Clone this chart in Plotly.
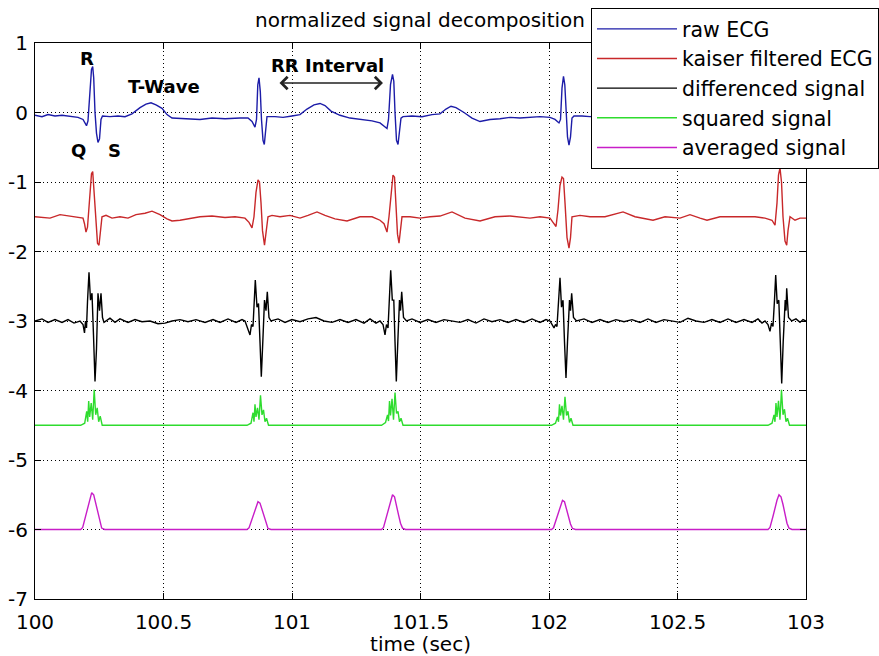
import plotly.graph_objects as go

# ---------------- data (time in seconds, normalized amplitude) ----------------
raw_t = [100.0000, 100.0272, 100.0506, 100.0778, 100.1051, 100.1362, 100.1673, 100.1868, 100.2004, 100.2062,
         100.2140, 100.2198, 100.2245, 100.2284, 100.2335, 100.2393, 100.2451, 100.2510, 100.2568, 100.2626,
         100.2918, 100.3230, 100.3502, 100.3774, 100.4086, 100.4319, 100.4514, 100.4708, 100.4942, 100.5136,
         100.5331, 100.5837, 100.6420, 100.6887, 100.7393, 100.7977, 100.8288, 100.8444, 100.8560, 100.8619,
         100.8669, 100.8716, 100.8767, 100.8813, 100.8872, 100.8922, 100.8969, 100.9027, 100.9339, 100.9650,
         101.0000, 101.0311, 101.0584, 101.0856, 101.1090, 101.1284, 101.1518, 101.1868, 101.2257, 101.2724,
         101.3113, 101.3424, 101.3619, 101.3697, 101.3755, 101.3833, 101.3911, 101.3961, 101.4008, 101.4066,
         101.4125, 101.4183, 101.4241, 101.4319, 101.4669, 101.5058, 101.5447, 101.5759, 101.5992, 101.6187,
         101.6381, 101.6693, 101.7004, 101.7315, 101.7704, 101.8094, 101.8483, 101.8872, 101.9261, 101.9650,
         102.0039, 102.0234, 102.0389, 102.0448, 102.0506, 102.0564, 102.0615, 102.0661, 102.0720, 102.0778,
         102.0837, 102.0895, 102.0973, 102.1284, 102.1595, 102.1985, 102.2763, 102.3541, 102.4319, 102.5098,
         102.5876, 102.6654, 102.7432, 102.8210, 102.8677, 102.8794, 102.8872, 102.8950, 102.9028, 102.9144,
         102.9261, 102.9572, 103.0000]
raw_v = [-0.04, -0.06, -0.03, -0.05, -0.04, -0.05, -0.07, -0.10, -0.19, -0.12,
         0.30, 0.62, 0.66, 0.50, 0.00, -0.30, -0.43, -0.38, -0.10, -0.05,
         -0.06, -0.05, -0.06, -0.02, 0.07, 0.12, 0.14, 0.11, 0.06, -0.03,
         -0.08, -0.09, -0.10, -0.08, -0.09, -0.08, -0.08, -0.13, -0.21, -0.10,
         0.40, 0.50, 0.30, -0.10, -0.40, -0.46, -0.30, -0.06, -0.06, -0.07,
         -0.05, -0.03, 0.05, 0.11, 0.13, 0.10, 0.02, -0.04, -0.08, -0.10,
         -0.12, -0.15, -0.20, -0.23, -0.10, 0.40, 0.55, 0.45, 0.00, -0.40,
         -0.46, -0.30, -0.08, -0.06, -0.05, -0.06, -0.03, -0.02, 0.05, 0.09,
         0.07, 0.00, -0.08, -0.13, -0.10, -0.09, -0.07, -0.08, -0.07, -0.06,
         -0.07, -0.10, -0.15, -0.10, 0.35, 0.52, 0.40, 0.00, -0.35, -0.47,
         -0.35, -0.08, -0.05, -0.05, -0.06, -0.05, 0.08, -0.08, -0.07, -0.06,
         0.06, -0.08, -0.07, -0.06, -0.12, -0.20, 0.30, 0.60, 0.10, -0.45,
         -0.10, -0.05, -0.05]

kaiser_t = [100.0000, 100.0584, 100.0973, 100.1556, 100.1868, 100.1926, 100.1984, 100.2043, 100.2121, 100.2198,
            100.2245, 100.2296, 100.2354, 100.2432, 100.2490, 100.2549, 100.2607, 100.2763, 100.2996, 100.3307,
            100.3619, 100.3930, 100.4280, 100.4553, 100.4864, 100.5136, 100.5331, 100.5642, 100.6031, 100.6420,
            100.6887, 100.7393, 100.7782, 100.8171, 100.8327, 100.8444, 100.8521, 100.8599, 100.8677, 100.8735,
            100.8794, 100.8852, 100.8930, 100.8988, 100.9066, 100.9222, 100.9533, 100.9922, 101.0311, 101.0623,
            101.0973, 101.1284, 101.1673, 101.2140, 101.2646, 101.3113, 101.3424, 101.3580, 101.3697, 101.3774,
            101.3872, 101.3930, 101.3989, 101.4047, 101.4105, 101.4164, 101.4222, 101.4280, 101.4592, 101.4981,
            101.5370, 101.5759, 101.6226, 101.6732, 101.7315, 101.7899, 101.8483, 101.8872, 101.9261, 101.9650,
            102.0039, 102.0156, 102.0273, 102.0350, 102.0428, 102.0506, 102.0564, 102.0623, 102.0701, 102.0778,
            102.0837, 102.0895, 102.1206, 102.1595, 102.2179, 102.2880, 102.3347, 102.4047, 102.4514, 102.5098,
            102.5486, 102.5876, 102.6148, 102.6654, 102.7432, 102.8016, 102.8405, 102.8677, 102.8794, 102.8872,
            102.8930, 102.8988, 102.9047, 102.9105, 102.9183, 102.9249, 102.9300, 102.9378, 102.9572, 102.9767,
            103.0000]
kaiser_v = [-1.50, -1.52, -1.47, -1.50, -1.52, -1.60, -1.72, -1.65, -1.20, -0.88,
            -0.85, -1.10, -1.50, -1.88, -1.91, -1.70, -1.50, -1.48, -1.52, -1.50,
            -1.52, -1.47, -1.45, -1.42, -1.47, -1.53, -1.56, -1.55, -1.52, -1.50,
            -1.49, -1.51, -1.50, -1.52, -1.58, -1.66, -1.50, -1.15, -0.97, -1.00,
            -1.30, -1.70, -1.91, -1.75, -1.50, -1.48, -1.50, -1.48, -1.52, -1.48,
            -1.43, -1.48, -1.53, -1.56, -1.50, -1.50, -1.55, -1.60, -1.72, -1.50,
            -1.10, -0.90, -0.93, -1.30, -1.75, -1.88, -1.70, -1.50, -1.50, -1.52,
            -1.50, -1.49, -1.43, -1.52, -1.56, -1.50, -1.49, -1.51, -1.52, -1.50,
            -1.52, -1.58, -1.64, -1.40, -1.05, -0.93, -0.95, -1.30, -1.80, -1.95,
            -1.80, -1.50, -1.48, -1.50, -1.50, -1.43, -1.50, -1.55, -1.50, -1.52,
            -1.47, -1.52, -1.55, -1.50, -1.50, -1.50, -1.52, -1.55, -1.62, -1.30,
            -0.90, -0.80, -1.00, -1.50, -1.85, -1.91, -1.70, -1.50, -1.55, -1.52,
            -1.52]

diff_t = [100.0000, 100.0272, 100.0506, 100.0778, 100.1051, 100.1284, 100.1518,
          100.1751, 100.1868, 100.1926, 100.1965, 100.2004, 100.2043, 100.2101, 100.2160, 100.2218, 100.2276,
          100.2335, 100.2393, 100.2451, 100.2510, 100.2568, 100.2626, 100.2685,
          100.2918, 100.3113, 100.3307, 100.3619, 100.3891, 100.4163, 100.4475, 100.4786, 100.5058, 100.5331,
          100.5642, 100.5953, 100.6265, 100.6615, 100.6926, 100.7199, 100.7510, 100.7821, 100.8055,
          100.8171, 100.8366, 100.8424, 100.8483, 100.8521, 100.8572, 100.8638, 100.8697, 100.8755, 100.8806,
          100.8864, 100.8930, 100.8988, 100.9039, 100.9105, 100.9183,
          100.9455, 100.9728, 101.0000, 101.0311, 101.0623, 101.0934, 101.1245, 101.1557, 101.1868, 101.2179,
          101.2490, 101.2802, 101.3035, 101.3269,
          101.3424, 101.3541, 101.3619, 101.3677, 101.3736, 101.3786, 101.3841, 101.3903, 101.3961, 101.4008,
          101.4059, 101.4117, 101.4183, 101.4222, 101.4269, 101.4339, 101.4456,
          101.4669, 101.4981, 101.5292, 101.5603, 101.5915, 101.6226, 101.6537, 101.6848, 101.7160, 101.7471,
          101.7782, 101.8094, 101.8405, 101.8716, 101.9027, 101.9339, 101.9650, 101.9883,
          102.0039, 102.0195, 102.0253, 102.0311, 102.0370, 102.0428, 102.0487, 102.0545, 102.0603, 102.0661,
          102.0720, 102.0798, 102.0837, 102.0882, 102.0953, 102.1070,
          102.1362, 102.1673, 102.1985, 102.2296, 102.2607, 102.2918, 102.3230, 102.3541, 102.3852, 102.4163,
          102.4475, 102.4786, 102.5098, 102.5409, 102.5720, 102.6031, 102.6342, 102.6654, 102.6965, 102.7276,
          102.7588, 102.7899, 102.8132, 102.8288,
          102.8405, 102.8521, 102.8599, 102.8658, 102.8716, 102.8774, 102.8821, 102.8879, 102.8942, 102.9000,
          102.9055, 102.9113, 102.9191, 102.9222, 102.9249, 102.9319, 102.9444,
          102.9611, 102.9767, 102.9883, 103.0000]
diff_v = [-3.00, -2.97, -3.02, -2.98, -3.02, -2.98, -3.03,
          -3.00, -3.05, -3.17, -3.00, -3.10, -2.72, -2.30, -2.70, -2.60, -3.20,
          -3.87, -3.40, -2.60, -2.85, -2.60, -2.95, -3.02,
          -2.96, -3.02, -2.97, -3.02, -2.98, -3.01, -3.00, -3.04, -3.03, -3.00,
          -2.98, -3.01, -2.98, -3.02, -2.98, -3.02, -2.97, -3.02, -2.98,
          -3.00, -3.20, -3.05, -3.08, -2.80, -2.41, -2.80, -2.75, -3.30, -3.80,
          -3.30, -2.70, -2.85, -2.58, -2.95, -3.00,
          -2.97, -3.02, -2.98, -3.01, -2.97, -2.95, -3.00, -3.02, -2.98, -3.02,
          -2.98, -3.03, -2.97, -3.03,
          -3.00, -3.05, -3.20, -3.05, -3.10, -2.70, -2.27, -2.70, -2.70, -3.30,
          -3.87, -3.30, -2.70, -2.85, -2.58, -2.95, -3.00,
          -2.97, -3.02, -2.98, -3.02, -2.98, -3.00, -3.02, -2.98, -3.03, -2.97,
          -3.01, -2.98, -3.02, -2.98, -3.02, -2.97, -3.02, -2.98,
          -3.00, -3.10, -3.05, -3.08, -2.70, -2.38, -2.80, -2.70, -3.30, -3.82,
          -3.30, -2.70, -2.85, -2.60, -2.95, -3.00,
          -2.97, -3.02, -2.98, -3.02, -2.98, -3.01, -2.98, -3.02, -2.97, -3.02,
          -2.98, -3.00, -3.02, -2.96, -3.00, -3.02, -2.98, -3.02, -2.97, -3.02,
          -2.98, -3.02, -2.97, -3.03,
          -3.00, -3.05, -3.15, -3.03, -3.08, -2.70, -2.34, -2.75, -2.70, -3.30,
          -3.90, -3.30, -2.70, -2.85, -2.53, -2.95, -3.00,
          -2.97, -3.02, -2.98, -3.00]

sq_t = [100.0000,
        100.1778, 100.1934, 100.2012, 100.2050, 100.2089, 100.2128, 100.2187, 100.2245, 100.2303, 100.2362, 100.2420, 100.2478, 100.2537, 100.2615,
        100.8249, 100.8405, 100.8483, 100.8521, 100.8560, 100.8599, 100.8658, 100.8716, 100.8774, 100.8833, 100.8891, 100.8949, 100.9008, 100.9086,
        101.3483, 101.3639, 101.3717, 101.3755, 101.3794, 101.3833, 101.3892, 101.3950, 101.4008, 101.4067, 101.4125, 101.4183, 101.4242, 101.4320,
        102.0097, 102.0253, 102.0331, 102.0369, 102.0408, 102.0447, 102.0506, 102.0564, 102.0622, 102.0681, 102.0739, 102.0797, 102.0856, 102.0934,
        102.8521, 102.8677, 102.8755, 102.8793, 102.8832, 102.8871, 102.8930, 102.8988, 102.9046, 102.9105, 102.9163, 102.9221, 102.9280, 102.9358,
        103.0000]
sq_v = [-4.50,
        -4.50, -4.47, -4.30, -4.45, -4.15, -4.38, -4.18, -4.42, -3.99, -4.35, -4.25, -4.45, -4.37, -4.50,
        -4.50, -4.47, -4.32, -4.45, -4.20, -4.38, -4.25, -4.42, -4.07, -4.35, -4.28, -4.45, -4.40, -4.50,
        -4.50, -4.46, -4.35, -4.44, -4.15, -4.36, -4.12, -4.42, -4.03, -4.33, -4.30, -4.45, -4.40, -4.50,
        -4.50, -4.47, -4.38, -4.45, -4.20, -4.36, -4.22, -4.42, -4.09, -4.36, -4.30, -4.46, -4.40, -4.50,
        -4.50, -4.47, -4.35, -4.45, -4.18, -4.38, -4.15, -4.42, -3.99, -4.35, -4.27, -4.45, -4.40, -4.50,
        -4.50]

avg_t = [100.0000,
         100.1778, 100.1856, 100.1973, 100.2050, 100.2128, 100.2206, 100.2284, 100.2362, 100.2440, 100.2517, 100.2595, 100.2712,
         100.8249, 100.8327, 100.8444, 100.8521, 100.8599, 100.8677, 100.8755, 100.8833, 100.8911, 100.8988, 100.9066, 100.9183,
         101.3483, 101.3561, 101.3678, 101.3755, 101.3833, 101.3911, 101.3989, 101.4067, 101.4145, 101.4222, 101.4300, 101.4417,
         102.0097, 102.0175, 102.0292, 102.0369, 102.0447, 102.0525, 102.0603, 102.0681, 102.0759, 102.0836, 102.0914, 102.1031,
         102.8521, 102.8599, 102.8716, 102.8793, 102.8871, 102.8949, 102.9027, 102.9105, 102.9183, 102.9260, 102.9338, 102.9455,
         103.0000]
avg_v = [-6.00,
         -6.00, -5.97, -5.80, -5.66, -5.55, -5.47, -5.50, -5.62, -5.78, -5.90, -5.98, -6.00,
         -6.00, -5.977, -5.85, -5.74, -5.66, -5.60, -5.62, -5.71, -5.83, -5.92, -5.985, -6.00,
         -6.00, -5.97, -5.81, -5.68, -5.58, -5.50, -5.53, -5.64, -5.79, -5.91, -5.98, -6.00,
         -6.00, -5.976, -5.84, -5.73, -5.64, -5.58, -5.60, -5.70, -5.83, -5.92, -5.985, -6.00,
         -6.00, -5.97, -5.81, -5.68, -5.58, -5.50, -5.53, -5.64, -5.79, -5.91, -5.98, -6.00,
         -6.00]

series_names = ["raw ECG", "kaiser filtered ECG", "differenced signal", "squared signal", "averaged signal"]
series_colors = ["#1c1ca8", "#c8282a", "#000000", "#2edc2e", "#c81ec8"]

x_ticks = [100, 100.5, 101, 101.5, 102, 102.5, 103]
x_tick_labels = ["100", "100.5", "101", "101.5", "102", "102.5", "103"]
y_ticks = [-7, -6, -5, -4, -3, -2, -1, 0, 1]
y_tick_labels = ["-7", "-6", "-5", "-4", "-3", "-2", "-1", "0", "1"]

# annotation labels (text, time, value)
label_text = ["R", "T-Wave", "RR Interval", "Q", "S"]
label_t = [100.2023, 100.502, 101.138, 100.171, 100.3086]
label_v = [0.784, 0.371, 0.683, -0.54, -0.54]
rr_arrow_t = [100.9455, 101.354]
rr_arrow_v = 0.424

FONT = "DejaVu Sans"

fig = go.Figure()
for (t, v), name, col in zip([(raw_t, raw_v), (kaiser_t, kaiser_v), (diff_t, diff_v), (sq_t, sq_v), (avg_t, avg_v)],
                             series_names, series_colors):
    fig.add_trace(go.Scatter(x=t, y=v, mode="lines", name=name,
                             line=dict(color=col, width=1.4)))

for txt, tx, ty in zip(label_text, label_t, label_v):
    fig.add_annotation(x=tx, y=ty, xref="x", yref="y", text="<b>%s</b>" % txt, showarrow=False,
                       font=dict(family=FONT, size=18, color="black"))

fig.add_annotation(x=rr_arrow_t[1], y=rr_arrow_v, ax=rr_arrow_t[0], ay=rr_arrow_v,
                   xref="x", yref="y", axref="x", ayref="y", text="", showarrow=True,
                   arrowside="end+start", arrowhead=4, arrowsize=1.6, arrowwidth=1.5, arrowcolor="#222222")

axis_common = dict(showline=True, linecolor="black", linewidth=1, mirror="ticks",
                   ticks="inside", ticklen=6, tickcolor="black", zeroline=False,
                   showgrid=True, gridcolor="black", gridwidth=1, griddash="1px,3px",
                   tickfont=dict(family=FONT, size=20, color="black"))

fig.update_layout(
    width=879, height=656,
    margin=dict(l=35, r=73, t=43, b=57, autoexpand=False),
    paper_bgcolor="white", plot_bgcolor="white",
    title=dict(text="normalized signal decomposition", x=(420 / 879), xanchor="center",
               y=1 - 20 / 656, yanchor="middle", yref="container",
               font=dict(family=FONT, size=20, color="black")),
    xaxis=dict(range=[100, 103], tickmode="array", tickvals=x_ticks, ticktext=x_tick_labels,
               ticklabelstandoff=5,
               title=dict(text="time (sec)", font=dict(family=FONT, size=20, color="black"), standoff=2),
               **axis_common),
    yaxis=dict(range=[-7, 1], tickmode="array", tickvals=y_ticks, ticktext=y_tick_labels,
               ticklabelstandoff=2, **axis_common),
    legend=dict(x=(591 - 35) / 771, y=(599 - 8) / 556, xanchor="left", yanchor="top",
                bgcolor="white", bordercolor="black", borderwidth=1,
                font=dict(family=FONT, size=20.5, color="black"), itemwidth=80),
    showlegend=True,
)

fig.write_html("out.html", config={"displayModeBar": False},
               post_script="document.body.style.margin='0px';document.body.style.overflow='hidden';")
